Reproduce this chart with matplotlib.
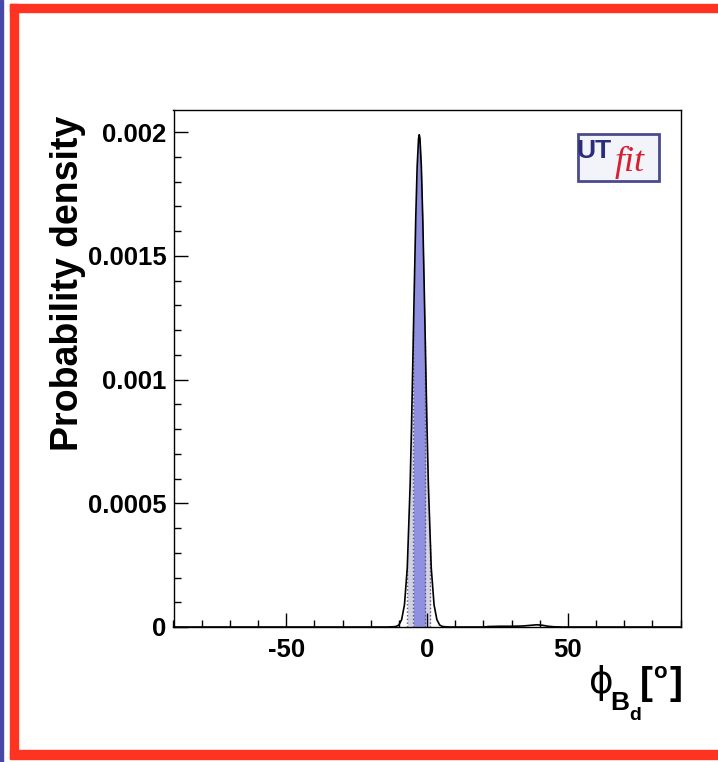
import numpy as np
import matplotlib
matplotlib.use("Agg")
import matplotlib.pyplot as plt
from matplotlib.patches import Rectangle
from matplotlib.ticker import MultipleLocator

plt.rcParams["axes.unicode_minus"] = False

# phi_Bd posterior
phi_deg = [-90, -14, -12, -11, -10, -9, -8, -7, -6, -5.5, -5, -4.5, -4, -3.5,
           -3, -2.75, -2.5, -2, -1.5, -1, -0.5, 0, 0.5, 1.5, 2.5, 3.5, 4.5,
           5.5, 6.5, 8, 20, 22, 26, 30, 34, 37, 39, 41, 43, 45, 48, 90]
density = [0, 0, 1e-6, 2e-6, 8e-6, 3.0e-5, 9.0e-5, 2.4e-4, 5.7e-4, 8.1e-4,
           1.09e-3, 1.38e-3, 1.65e-3, 1.86e-3, 1.975e-3, 1.99e-3, 1.975e-3,
           1.86e-3, 1.65e-3, 1.38e-3, 1.09e-3, 8.1e-4, 5.7e-4, 2.4e-4, 9.0e-5,
           3.0e-5, 8e-6, 2e-6, 1e-6, 0, 0, 2e-6, 3e-6, 3e-6, 4e-6, 7e-6, 9e-6,
           7e-6, 3e-6, 1e-6, 0, 0]
ci68 = (-4.8, -0.6)
ci95 = (-7.0, 1.2)
x_ticks = [-50, 0, 50]
y_ticks = [0, 0.0005, 0.001, 0.0015, 0.002]
y_tick_labels = ["0", "0.0005", "0.001", "0.0015", "0.002"]

W, H = 718, 762
fig = plt.figure(figsize=(W / 100, H / 100), dpi=100)
fig.patch.set_facecolor("white")


def fx(px):
    return px / W


def fy(py):
    return 1 - py / H


# frame around the slide
fig.patches.append(Rectangle((0, fy(762)), fx(2.7), 1, transform=fig.transFigure,
                             color="#4848a8", zorder=0))
fig.patches.append(Rectangle((fx(9.5), fy(758)), fx(8), fy(4) - fy(758),
                             transform=fig.transFigure, color="#ff3322", zorder=0))
fig.patches.append(Rectangle((fx(9.5), fy(12)), 1, fy(4) - fy(12),
                             transform=fig.transFigure, color="#ff3322", zorder=0))
fig.patches.append(Rectangle((fx(9.5), fy(759)), 1, fy(750) - fy(759),
                             transform=fig.transFigure, color="#ff3322", zorder=0))

ax = fig.add_axes([fx(173.5), fy(627), fx(680.5) - fx(173.5), fy(110) - fy(627)])

x = np.array(phi_deg)
y = np.array(density)


def band(lo, hi):
    inner = x[(x > lo) & (x < hi)]
    xs = np.concatenate([[lo], inner, [hi]])
    return xs, np.interp(xs, x, y)


xs, ys = band(*ci95)
ax.fill_between(xs, 0, ys, color="#d2d2e4", lw=0, zorder=1)
xs, ys = band(*ci68)
ax.fill_between(xs, 0, ys, color="#9090e0", lw=0, zorder=2)
for b in list(ci95) + list(ci68):
    ax.vlines(b, 0, np.interp(b, x, y), colors="#55557a", linestyles=":",
              lw=1.0, zorder=3)
ax.plot(x, y, color="black", lw=1.2, zorder=4)

ax.set_xlim(-90, 90)
ax.set_ylim(0, 0.00209)
ax.set_xticks(x_ticks)
ax.xaxis.set_minor_locator(MultipleLocator(10))
ax.set_yticks(y_ticks)
ax.set_yticklabels(y_tick_labels)
ax.yaxis.set_minor_locator(MultipleLocator(0.0001))
ax.tick_params(which="both", direction="in", top=False, right=False,
               width=1, color="black")
ax.tick_params(which="major", length=10)
ax.tick_params(which="minor", length=5)
ax.tick_params(axis="x", which="major", pad=8)
ax.tick_params(axis="y", which="major", pad=5)
for lab in ax.get_xticklabels() + ax.get_yticklabels():
    lab.set_fontfamily("Liberation Sans")
    lab.set_fontweight("bold")
    lab.set_fontsize(18.5)
for sp in ax.spines.values():
    sp.set_linewidth(1)

# axis titles
fig.text(fx(68), fy(116), "Probability density", rotation=90, ha="center",
         va="top", fontsize=27, fontweight="bold", family="Liberation Sans")
fig.text(fx(601), fy(683), "\u03d5", ha="center", va="center", fontsize=27,
         family="DejaVu Sans")
fig.text(fx(620), fy(703), "B", ha="center", va="center", fontsize=19,
         fontweight="bold", family="Liberation Sans")
fig.text(fx(635), fy(715), "d", ha="center", va="center", fontsize=14,
         fontweight="bold", family="Liberation Sans")
fig.text(fx(646.5), fy(684), "[", ha="center", va="center", fontsize=28,
         fontweight="bold", family="Liberation Sans")
fig.text(fx(660), fy(672), "o", ha="center", va="center", fontsize=16,
         fontweight="bold", family="Liberation Sans")
fig.text(fx(675.5), fy(684), "]", ha="center", va="center", fontsize=28,
         fontweight="bold", family="Liberation Sans")

# UTfit logo
fig.patches.append(Rectangle((fx(578), fy(181)), fx(659) - fx(578), fy(134) - fy(181),
                             transform=fig.transFigure, facecolor="#f3f3fa",
                             edgecolor="#4a4a8e", lw=2, zorder=5))
fig.text(fx(593.5), fy(151), "UT", ha="center", va="center", fontsize=19,
         fontweight="bold", color="#2c2c7c", family="Liberation Sans", zorder=6)
fig.text(fx(630), fy(162), "fit", ha="center", va="center", fontsize=26,
         style="italic", color="#d42030", family="Liberation Serif", zorder=6)

fig.savefig("out.png", dpi=100)
